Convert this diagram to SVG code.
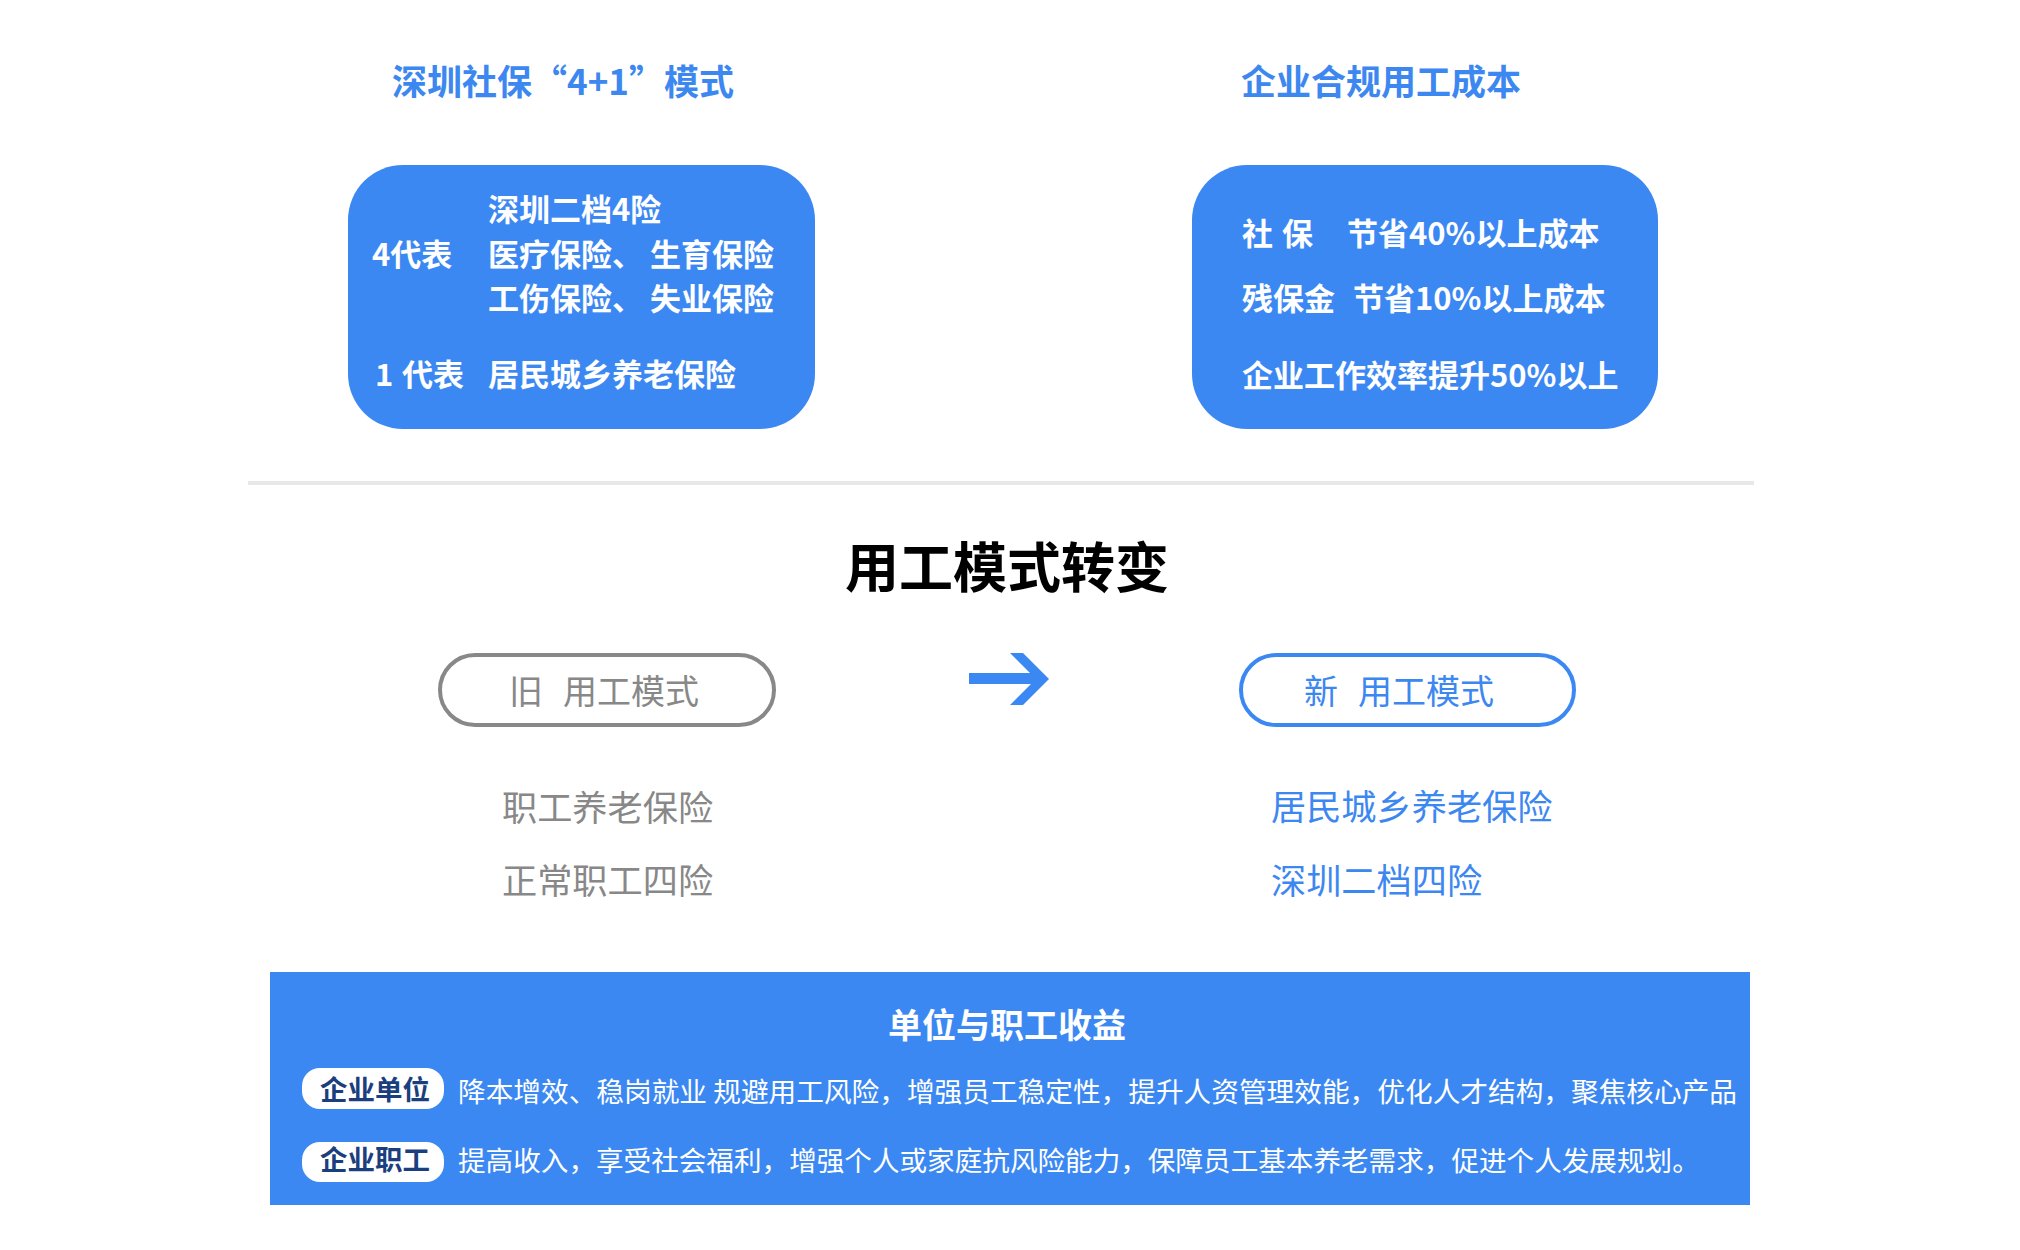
<svg xmlns="http://www.w3.org/2000/svg" width="2020" height="1250" viewBox="0 0 2020 1250">
  <style>
    text { font-family: "Noto Sans CJK SC", "Noto Sans", sans-serif; }
    .title { font-size: 35px; font-weight: 700; fill: #3C87F0; }
    .box { fill: #3C88F3; }
    .bt { font-size: 31px; font-weight: 700; fill: #ffffff; }
    .pilltxt { font-size: 34px; font-weight: 400; }
    .item { font-size: 35.2px; font-weight: 400; }
    .gray { fill: #888888; }
    .blue { fill: #3C87F0; }
    .badge { fill: #ffffff; }
    .badgetxt { font-size: 27.5px; font-weight: 700; fill: #1B3F7E; }
    .body { font-size: 27.6px; font-weight: 400; fill: #ffffff; }
  </style>
  <rect x="0" y="0" width="2020" height="1250" fill="#ffffff"/>

  <g id="model-41">
    <text class="title" x="392" y="95">深圳社保“4+1”模式</text>
    <rect class="box" x="348" y="165" width="467" height="264" rx="55" ry="55"/>
    <text class="bt" x="488" y="221">深圳二档4险</text>
    <text class="bt" x="372" y="266">4代表</text>
    <text class="bt" x="488" y="266">医疗保险、 生育保险</text>
    <text class="bt" x="488" y="310">工伤保险、 失业保险</text>
    <text class="bt" x="375" y="386">1</text>
    <text class="bt" x="402" y="386">代表</text>
    <text class="bt" x="488" y="386">居民城乡养老保险</text>
  </g>

  <g id="cost">
    <text class="title" x="1241" y="95">企业合规用工成本</text>
    <rect class="box" x="1192" y="165" width="466" height="264" rx="55" ry="55"/>
    <text class="bt" x="1242" y="245">社</text>
    <text class="bt" x="1282" y="245">保</text>
    <text class="bt" x="1347" y="245">节省40%以上成本</text>
    <text class="bt" x="1242" y="310">残保金</text>
    <text class="bt" x="1353" y="310">节省10%以上成本</text>
    <text class="bt" x="1242" y="387">企业工作效率提升50%以上</text>
  </g>

  <rect id="separator" x="248" y="481" width="1506" height="4" fill="#E8E8E8"/>

  <g id="heading">
    <text x="1007" y="588" text-anchor="middle" font-size="54" font-weight="700" fill="#000000">用工模式转变</text>
  </g>

  <g id="old-mode">
    <rect x="440" y="655" width="334" height="70" rx="35" ry="35" fill="none" stroke="#888888" stroke-width="4"/>
    <text class="pilltxt gray" x="509" y="704">旧</text>
    <text class="pilltxt gray" x="563" y="704">用工模式</text>
    <text class="item gray" x="502" y="821">职工养老保险</text>
    <text class="item gray" x="502" y="894">正常职工四险</text>
  </g>

  <g id="connectors">
    <rect x="969" y="673" width="70" height="11" fill="#3C88F3"/>
    <polygon points="1010,653 1023,653 1049,679 1023,705 1010,705 1036,679" fill="#3C88F3"/>
  </g>

  <g id="new-mode">
    <rect x="1241" y="655" width="333" height="70" rx="35" ry="35" fill="none" stroke="#3C88F3" stroke-width="4"/>
    <text class="pilltxt blue" x="1304" y="704">新</text>
    <text class="pilltxt blue" x="1358" y="704">用工模式</text>
    <text class="item blue" x="1271" y="820">居民城乡养老保险</text>
    <text class="item blue" x="1271" y="894">深圳二档四险</text>
  </g>

  <g id="benefits">
    <rect x="270" y="972" width="1480" height="233" fill="#3C88F3"/>
    <text x="1007" y="1038" text-anchor="middle" font-size="34" font-weight="700" fill="#ffffff">单位与职工收益</text>
    <rect class="badge" x="302" y="1068" width="142" height="41" rx="18" ry="18"/>
    <text class="badgetxt" x="320" y="1100">企业单位</text>
    <text class="body" x="458" y="1102" textLength="1279" lengthAdjust="spacingAndGlyphs">降本增效、稳岗就业 规避用工风险，增强员工稳定性，提升人资管理效能，优化人才结构，聚焦核心产品</text>
    <rect class="badge" x="302" y="1142" width="142" height="40" rx="18" ry="18"/>
    <text class="badgetxt" x="320" y="1170">企业职工</text>
    <text class="body" x="458" y="1171">提高收入，享受社会福利，增强个人或家庭抗风险能力，保障员工基本养老需求，促进个人发展规划。</text>
  </g>
</svg>
